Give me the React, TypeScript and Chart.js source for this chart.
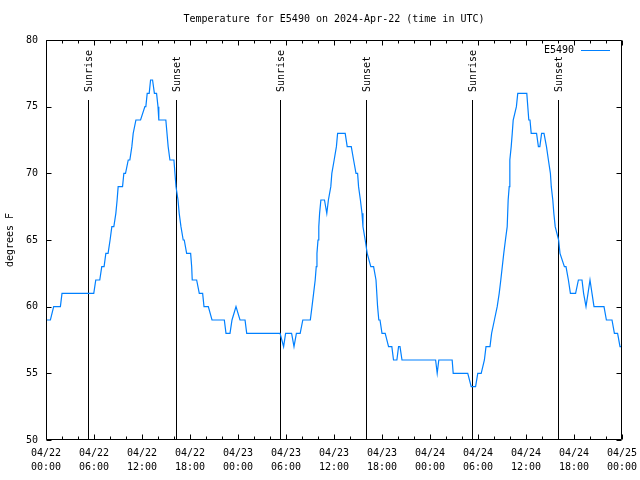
import { useEffect, useRef } from 'react';
import { Chart, registerables } from 'chart.js';

Chart.register(...registerables);

const TITLE = 'Temperature for E5490 on 2024-Apr-22 (time in UTC)';
const SERIES_NAME = 'E5490';
const Y_TITLE = 'degrees F';
const LINE_COLOR = '#0080ff';
const FONT = '"DejaVu Sans Mono", "Liberation Mono", monospace';

// hours since 2024-04-22 00:00 UTC
const X_MIN = 0;
const X_MAX = 72;
const X_STEP = 6;
const X_MINOR_STEP = 2;
const X_TICK_LABELS = [
  ['04/22', '00:00'], ['04/22', '06:00'], ['04/22', '12:00'], ['04/22', '18:00'],
  ['04/23', '00:00'], ['04/23', '06:00'], ['04/23', '12:00'], ['04/23', '18:00'],
  ['04/24', '00:00'], ['04/24', '06:00'], ['04/24', '12:00'], ['04/24', '18:00'],
  ['04/25', '00:00'],
];
const Y_MIN = 50;
const Y_MAX = 80;
const Y_STEP = 5;

const EVENT_HOURS = [5.2, 16.2, 29.25, 39.98, 53.22, 63.98];
const EVENT_LABELS = ['Sunrise', 'Sunset', 'Sunrise', 'Sunset', 'Sunrise', 'Sunset'];

const HOURS = [
  0.1, 0.55, 0.96, 1.8, 2.0, 5.97, 6.22, 6.72, 6.97, 7.26, 7.48, 7.76, 8.01, 8.23, 8.48, 8.73, 8.89, 9.02,
  9.57, 9.73, 9.94, 10.28, 10.48, 10.73, 10.9, 11.24, 11.82, 12.36, 12.48, 12.65, 12.9, 13.07, 13.32, 13.55,
  13.82, 14.0, 14.1, 14.98, 15.27, 15.49, 15.99, 16.12, 16.25, 16.5, 16.65, 16.87, 17.15, 17.28, 17.58, 18.08,
  18.21, 18.28, 18.83, 19.16, 19.58, 19.75, 20.29, 20.75, 22.29, 22.5, 23.0, 23.25, 23.75, 24.25, 24.88, 25.09,
  29.26, 29.7, 29.95, 30.7, 31.0, 31.3, 31.77, 32.1, 33.04, 33.25, 33.45, 33.65, 33.78, 33.87, 34.0, 34.1,
  34.2, 34.36, 34.81, 35.1, 35.3, 35.6, 35.73, 36.02, 36.3, 36.45, 37.4, 37.65, 38.16, 38.45, 38.75, 38.95,
  39.07, 39.3, 39.5, 39.62, 39.9, 40.15, 40.6, 40.95, 41.25, 41.45, 41.6, 41.75, 42.0, 42.4, 42.82, 43.23,
  43.44, 43.86, 44.07, 44.25, 44.5, 48.7, 48.9, 49.1, 50.77, 50.9, 52.72, 53.15, 53.7, 53.97, 54.4, 54.8,
  55.0, 55.5, 55.7, 56.05, 56.4, 56.65, 56.85, 57.22, 57.43, 57.65, 57.77, 57.9, 57.98, 58.15, 58.28, 58.4,
  58.8, 58.97, 60.1, 60.35, 60.5, 60.65, 61.32, 61.55, 61.73, 61.95, 62.25, 62.56, 62.8, 63.05, 63.16, 63.35,
  63.48, 63.65, 64.08, 64.25, 64.8, 65.0, 65.3, 65.55, 66.2, 66.55, 67.0, 67.2, 67.5, 67.75, 68.0, 68.25,
  68.5, 69.75, 70.05, 70.75, 71.05, 71.45, 71.75, 71.9,
];
const TEMPS = [
  59, 59, 60, 60, 61, 61, 62, 62, 63, 63, 64, 64, 65, 66, 66, 67, 68, 69,
  69, 70, 70, 71, 71, 72, 73, 74, 74, 75, 75, 76, 76, 77, 77, 76,
  76, 75, 74, 74, 72, 71, 71, 70, 69, 68, 67, 66, 65, 65, 64, 64,
  63, 62, 62, 61, 61, 60, 60, 59, 59, 58, 58, 59, 60, 59, 59, 58,
  58, 57, 58, 58, 57, 58, 58, 59, 59, 60, 61, 62, 63, 64, 65, 66,
  67, 68, 68, 67, 68, 69, 70, 71, 72, 73, 73, 72, 72, 71, 70, 70,
  69, 68, 67, 66, 65, 64, 63, 63, 62, 60, 59, 59, 58, 58, 57, 57,
  56, 56, 57, 57, 56, 56, 55, 56, 56, 55, 55, 54, 54, 55, 55, 56,
  57, 57, 58, 59, 60, 61, 62, 64, 65, 66, 68, 69, 71, 72, 73, 74,
  75, 76, 76, 74, 74, 73, 73, 72, 72, 73, 73, 72, 71, 70, 69, 68,
  67, 66, 65, 64, 63, 63, 62, 61, 61, 62, 62, 61, 60, 61, 62, 61,
  60, 60, 59, 59, 58, 58, 57, 57,
];

const px = (v: number) => Math.round(v) + 0.5;

const gnuplotPlugin = {
  id: 'gnuplotDecor',
  beforeDatasetsDraw(chart: any) {
    const { ctx, chartArea: a, scales } = chart;
    const xs = scales.x;
    ctx.save();
    ctx.strokeStyle = '#000';
    ctx.lineWidth = 1;
    ctx.fillStyle = '#000';
    ctx.font = `10px ${FONT}`;
    EVENT_HOURS.forEach((h, i) => {
      const x = px(xs.getPixelForValue(h));
      ctx.beginPath();
      ctx.moveTo(x, a.top + 60);
      ctx.lineTo(x, a.bottom);
      ctx.stroke();
      ctx.save();
      ctx.translate(x + 1, a.top + 52);
      ctx.rotate(-Math.PI / 2);
      ctx.textAlign = 'left';
      ctx.textBaseline = 'middle';
      ctx.fillText(EVENT_LABELS[i], 0, 0);
      ctx.restore();
    });
    ctx.restore();
  },
  afterDraw(chart: any) {
    const { ctx, chartArea: a, scales } = chart;
    const xs = scales.x;
    const ys = scales.y;
    ctx.save();
    ctx.strokeStyle = '#000';
    ctx.lineWidth = 1;
    const L = px(a.left), R = px(a.right) - 1, T = px(a.top), B = px(a.bottom) - 1;
    ctx.beginPath();
    ctx.rect(L, T, R - L, B - T);
    ctx.stroke();
    ctx.beginPath();
    for (let h = X_MIN; h <= X_MAX; h += X_MINOR_STEP) {
      const major = h % X_STEP === 0;
      const len = major ? 5 : 3;
      const x = px(xs.getPixelForValue(h));
      ctx.moveTo(x, B);
      ctx.lineTo(x, B - len);
      ctx.moveTo(x, T);
      ctx.lineTo(x, T + len);
    }
    for (let v = Y_MIN; v <= Y_MAX; v += Y_STEP) {
      const y = px(ys.getPixelForValue(v));
      ctx.moveTo(L, y);
      ctx.lineTo(L + 5, y);
      ctx.moveTo(R, y);
      ctx.lineTo(R - 5, y);
    }
    ctx.stroke();
    // title
    ctx.fillStyle = '#000';
    ctx.font = `10px ${FONT}`;
    ctx.textAlign = 'center';
    ctx.textBaseline = 'middle';
    ctx.fillText(TITLE, (a.left + a.right) / 2, 19);
    // legend
    ctx.textAlign = 'right';
    ctx.fillText(SERIES_NAME, a.right - 48, a.top + 10);
    ctx.strokeStyle = LINE_COLOR;
    ctx.beginPath();
    ctx.moveTo(a.right - 41, a.top + 10.5);
    ctx.lineTo(a.right - 12, a.top + 10.5);
    ctx.stroke();
    ctx.restore();
  },
};

export default function App() {
  const ref = useRef<HTMLCanvasElement | null>(null);
  useEffect(() => {
    document.body.style.margin = '0';
    if (!ref.current) return;
    const data = HOURS.map((h, i) => ({ x: h, y: TEMPS[i] }));
    const chart = new Chart(ref.current, {
      type: 'line',
      data: {
        datasets: [
          {
            label: SERIES_NAME,
            data,
            borderColor: LINE_COLOR,
            borderWidth: 1.2,
            pointRadius: 0,
            tension: 0,
            fill: false,
          },
        ],
      },
      plugins: [gnuplotPlugin],
      options: {
        animation: false,
        responsive: false,
        devicePixelRatio: 1,
        layout: { padding: { left: 0, right: 18, top: 40, bottom: 0 } },
        plugins: {
          legend: { display: false },
          title: { display: false },
          tooltip: { enabled: false },
        },
        scales: {
          x: {
            type: 'linear',
            min: X_MIN,
            max: X_MAX,
            grid: { display: false, drawTicks: false },
            border: { display: false },
            afterFit: (s: any) => {
              s.height = 40;
              s.paddingLeft = 0;
              s.paddingRight = 0;
            },
            ticks: {
              stepSize: X_STEP,
              autoSkip: false,
              maxRotation: 0,
              padding: 6,
              color: '#000',
              font: { family: FONT, size: 10, lineHeight: 1.4 },
              callback: (v: any) => X_TICK_LABELS[Math.round(Number(v) / X_STEP)] ?? '',
            },
          },
          y: {
            type: 'linear',
            min: Y_MIN,
            max: Y_MAX,
            grid: { display: false, drawTicks: false },
            border: { display: false },
            afterFit: (s: any) => {
              s.width = 46;
              s.paddingTop = 0;
              s.paddingBottom = 0;
            },
            title: {
              display: true,
              text: Y_TITLE,
              color: '#000',
              font: { family: FONT, size: 10, lineHeight: 1.2 },
              padding: { top: 4, bottom: 0 },
            },
            ticks: {
              stepSize: Y_STEP,
              padding: 8,
              color: '#000',
              font: { family: FONT, size: 10 },
            },
          },
        },
      },
    });
    return () => chart.destroy();
  }, []);
  return (
    <div style={{ position: 'absolute', left: 0, top: 0, width: 640, height: 480, background: '#fff' }}>
      <canvas ref={ref} width={640} height={480} />
    </div>
  );
}
